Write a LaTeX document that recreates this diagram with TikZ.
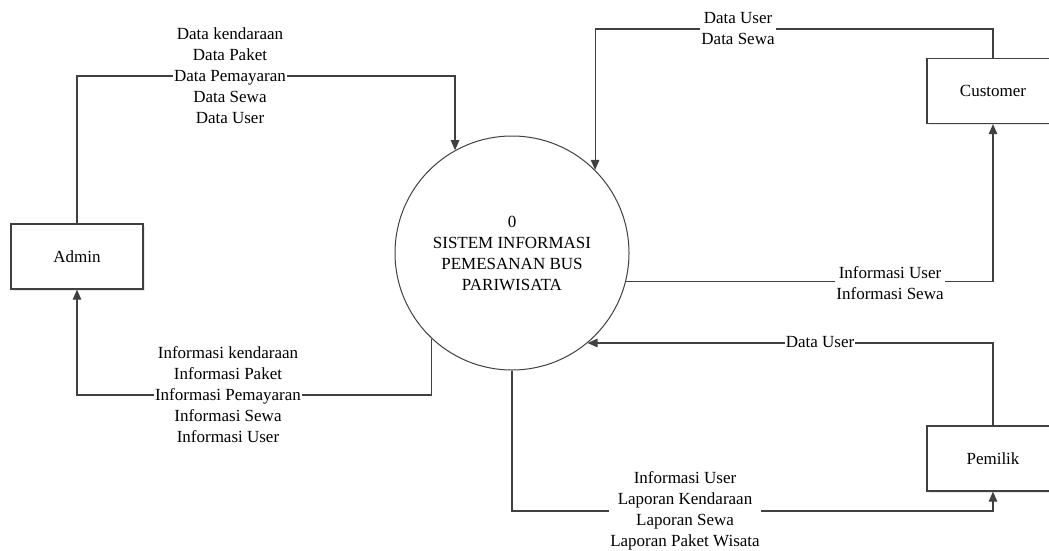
\documentclass[tikz,border=0pt]{standalone}
\usepackage{fontspec}
\setmainfont{Liberation Serif}
\usetikzlibrary{arrows.meta,shadows}
\tikzset{
	entitas/.style={draw=black!75, line width=1.2pt, fill=white, minimum width=132pt, minimum height=65pt, inner sep=0pt,
		drop shadow={opacity=0.18, shadow xshift=1.5pt, shadow yshift=-1.5pt}},
	proses/.style={circle, draw=black!75, line width=1pt, fill=white, minimum size=234pt, inner sep=0pt, align=center},
	aliran/.style={draw=black!75, line width=1.1pt, -{Triangle[length=10pt,width=8.5pt]}},
	ket/.style={fill=white, inner sep=1pt, align=center}
}
\begin{document}
\begin{tikzpicture} [x=1pt, y=-1pt, font=\fontsize{17}{21}\selectfont]
	\useasboundingbox (0,0) rectangle (1049,551);
	\node [proses] (sistem) at (512,253) {0\\SISTEM INFORMASI\\PEMESANAN BUS\\PARIWISATA};
	\node [entitas] (admin) at (77,256.5) {Admin};
	\node [entitas] (customer) at (993,91) {Customer};
	\node [entitas] (pemilik) at (993,458.5) {Pemilik};
	% arus data
	\coordinate (jalurA) at (0,76);
	\coordinate (jalurB) at (0,395);
	\coordinate (jalurC) at (0,29);
	\coordinate (jalurD) at (0,511);
	\draw [aliran] (admin.north) |- (sistem.119 |- jalurA) -- (sistem.119);
	\draw [aliran] (sistem.227) -- (sistem.227 |- jalurB) -| (admin.south);
	\draw [aliran] (customer.north) |- (sistem.45 |- jalurC) -- (sistem.45);
	\draw [aliran] (sistem.-14) -| (customer.south);
	\draw [aliran] (pemilik.north) |- (sistem.-50);
	\draw [aliran] (sistem.south) -- (sistem.south |- jalurD) -| (pemilik.south);
	% keterangan
	\node [ket] (ketA) at (230,76) {Data kendaraan\\Data Paket\\Data Pemayaran\\Data Sewa\\Data User};
	\node [ket] (ketB) at (228,395) {Informasi kendaraan\\Informasi Paket\\Informasi Pemayaran\\Informasi Sewa\\Informasi User};
	\node [ket] (ketC) at (738,29) {Data User\\Data Sewa};
	\node [ket] (ketD) at (890,283) {Informasi User\\Informasi Sewa};
	\node [ket] (ketE) at (820,342) {Data User};
	\node [ket] (ketF) at (685,511) {Informasi User\\Laporan Kendaraan\\Laporan Sewa\\Laporan Paket Wisata};
\end{tikzpicture}
\end{document}
